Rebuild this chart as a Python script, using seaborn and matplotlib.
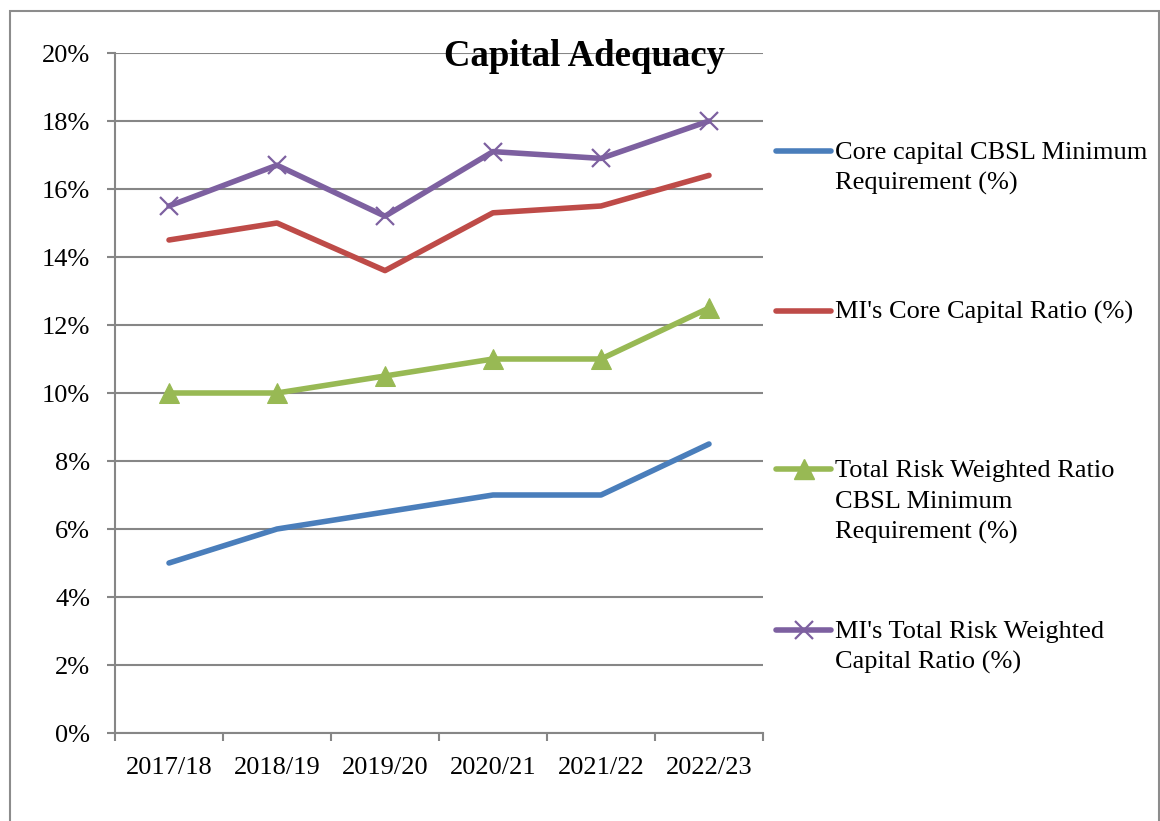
import matplotlib
matplotlib.use("Agg")
import matplotlib.pyplot as plt
from matplotlib.lines import Line2D
from matplotlib.patches import Rectangle
import seaborn as sns
import pandas as pd

# Financial years and capital ratios (%)
years = ["2017/18", "2018/19", "2019/20", "2020/21", "2021/22", "2022/23"]
core_min = [5.0, 6.0, 6.5, 7.0, 7.0, 8.5]
core_ratio = [14.5, 15.0, 13.6, 15.3, 15.5, 16.4]
trw_min = [10.0, 10.0, 10.5, 11.0, 11.0, 12.5]
trw_ratio = [15.5, 16.7, 15.2, 17.1, 16.9, 18.0]

labels = [
    "Core capital CBSL Minimum\nRequirement (%)",
    "MI's Core Capital Ratio (%)",
    "Total Risk Weighted Ratio\nCBSL Minimum\nRequirement (%)",
    "MI's Total Risk Weighted\nCapital Ratio (%)",
]
colors = ["#4A7EBB", "#BE4B48", "#98B954", "#7D60A0"]
markers = [None, None, "^", "x"]

sns.set_style("white")
plt.rcParams["font.family"] = ["Liberation Serif", "DejaVu Serif"]
plt.rcParams["text.color"] = "black"
plt.rcParams["xtick.labelcolor"] = "black"
plt.rcParams["ytick.labelcolor"] = "black"

W, H = 1160, 821
fig = plt.figure(figsize=(W / 100, H / 100), dpi=100)
ax = fig.add_axes([115 / W, 1 - 733 / H, (763 - 115) / W, (733 - 53) / H])

grid_col = "#868686"
LW = 4.0
series = [core_min, core_ratio, trw_min, trw_ratio]
for vals, col, mk in zip(series, colors, markers):
    df = pd.DataFrame({"year": years, "value": vals})
    kw = dict(color=col, linewidth=LW, solid_capstyle="round",
              solid_joinstyle="round", sort=False)
    if mk == "^":
        kw.update(marker="^", markersize=15, markeredgecolor=col,
                  markerfacecolor=col)
    elif mk == "x":
        kw.update(marker="x", markersize=13, markeredgewidth=1.6,
                  markeredgecolor=col)
    sns.lineplot(data=df, x="year", y="value", ax=ax, **kw)

ax.set_xlim(-0.5, 5.5)
ax.set_ylim(0, 20)
ax.set_yticks(range(0, 21, 2))
ax.set_yticklabels([f"{v}%" for v in range(0, 21, 2)])
ax.set_xticks(range(len(years)))
ax.set_xticklabels(years)
ax.set_xticks([i - 0.5 for i in range(len(years) + 1)], minor=True)
ax.set_xlabel("")
ax.set_ylabel("")

ax.yaxis.grid(True, color=grid_col, linewidth=1.5)
ax.xaxis.grid(False)
ax.set_axisbelow(True)

for side in ["top", "right"]:
    ax.spines[side].set_visible(False)
for side in ["left", "bottom"]:
    ax.spines[side].set_color(grid_col)
    ax.spines[side].set_linewidth(1.5)

ax.tick_params(axis="y", which="major", length=5.8, width=1.5, color=grid_col,
               direction="out", labelsize=19, pad=12, left=True)
ax.tick_params(axis="x", which="major", length=0, labelsize=19, pad=17)
ax.tick_params(axis="x", which="minor", length=5.8, width=1.5, color=grid_col,
               direction="out", bottom=True)

fig.text(584.5 / W, 1 - 66 / H, "Capital Adequacy", fontsize=26.5,
         fontweight="bold", ha="center", va="baseline", color="black")

# Legend drawn on the right, handle level with each entry's first line
entry_y = [151, 311, 469, 630]
line_gap = 31
for lab, col, mk, y in zip(labels, colors, markers, entry_y):
    yf = 1 - y / H
    ln = Line2D([776 / W, 803.5 / W, 831 / W], [yf, yf, yf],
                transform=fig.transFigure, color=col, linewidth=LW,
                solid_capstyle="round")
    if mk == "^":
        ln.set_marker("^"); ln.set_markersize(15); ln.set_markevery([1])
        ln.set_markeredgecolor(col); ln.set_markerfacecolor(col)
    elif mk == "x":
        ln.set_marker("x"); ln.set_markersize(13); ln.set_markevery([1])
        ln.set_markeredgewidth(1.6); ln.set_markeredgecolor(col)
    fig.add_artist(ln)
    for k, part in enumerate(lab.split("\n")):
        fig.text(835 / W, 1 - (y + 8 + k * line_gap) / H, part,
                 fontsize=19, ha="left", va="baseline", color="black")

# Outer chart frame
fig.add_artist(Rectangle((10 / W, -0.05), (1159 - 10) / W, 1 - 11 / H + 0.05,
                         transform=fig.transFigure, fill=False,
                         edgecolor="#8c8c8c", linewidth=1.5))

fig.savefig("out.png", dpi=100)
